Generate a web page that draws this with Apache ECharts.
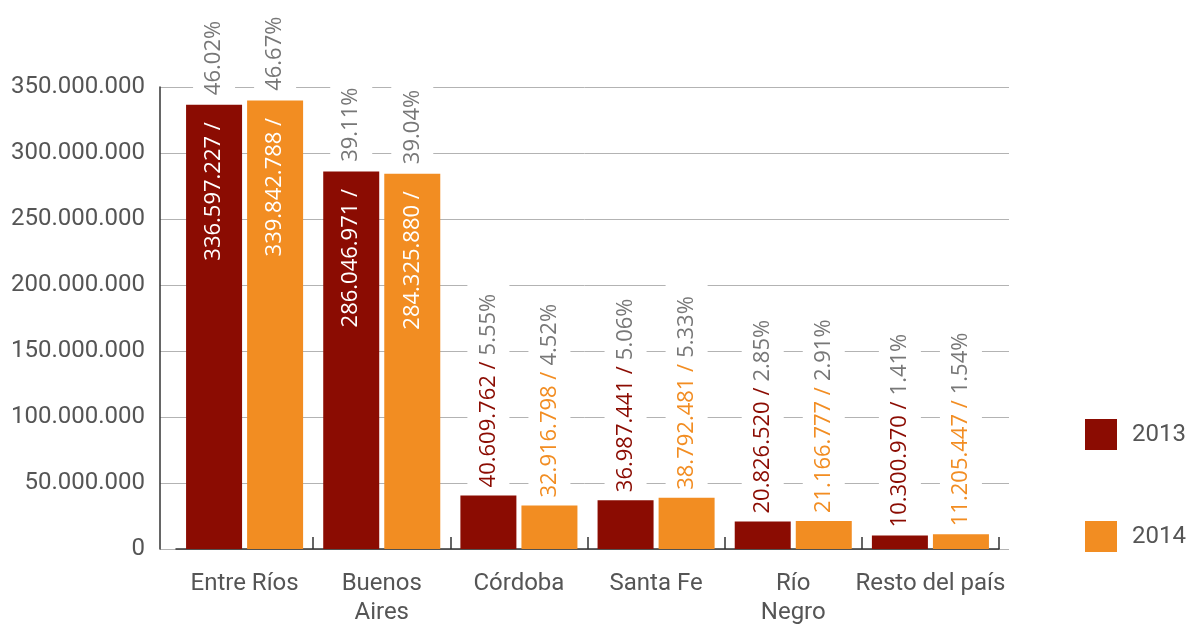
<!DOCTYPE html>
<html>
<head>
<meta charset="utf-8">
<script src="https://cdn.jsdelivr.net/npm/echarts@6/dist/echarts.min.js"></script>
<style>
  html, body { margin: 0; padding: 0; background: #fff; }
  #chart { width: 1187px; height: 628px; }
</style>
</head>
<body>
<div id="chart"></div>
<script>
// datos
var categories = ['Entre Ríos', 'Buenos\nAires', 'Córdoba', 'Santa Fe', 'Río\nNegro', 'Resto del país']
var values2013 = [336597227, 286046971, 40609762, 36987441, 20826520, 10300970]
var values2014 = [339842788, 284325880, 32916798, 38792481, 21166777, 11205447]
var pct2013 = [46.02, 39.11, 5.55, 5.06, 2.85, 1.41]
var pct2014 = [46.67, 39.04, 4.52, 5.33, 2.91, 1.54]
var yTicks = [0, 50000000, 100000000, 150000000, 200000000, 250000000, 300000000, 350000000]

var color2013 = '#8b0c02'
var color2014 = '#f28d22'
var gray = '#555'

function fmt(v) {
  return String(v).replace(/\B(?=(\d{3})+(?!\d))/g, '.')
}

// etiqueta dentro de la barra si es alta, encima si es baja
function buildData(values, pcts, color) {
  return values.map(function(v, i) {
    var big = v > 100000000
    var text = '{v|' + fmt(v) + ' /}' + (big ? '{g| }' : '{s| }') + '{p|' + pcts[i].toFixed(2) + '%}'
    var label = {
      show: true,
      rotate: 90,
      align: 'left',
      verticalAlign: 'middle',
      fontFamily: 'Open Sans',
      fontSize: 22,
      formatter: text,
      rich: {
        v: { color: big ? '#fff' : color, fontFamily: 'Open Sans', fontSize: 22 },
        s: { fontSize: 22, width: 6 },
        g: { fontSize: 22, width: 22 },
        p: big
          ? { color: '#777', fontFamily: 'Open Sans', fontSize: 22, backgroundColor: '#fff', padding: [10, 10, 10, 5] }
          : { color: '#777', fontFamily: 'Open Sans', fontSize: 22 }
      }
    }
    if (big) {
      label.position = ['50%', 156]
    } else {
      label.position = 'top'
      label.distance = 4
      label.backgroundColor = '#fff'
      label.padding = [10, 12, 10, 4]
    }
    return { value: v, label: label }
  })
}

var chart = echarts.init(document.getElementById('chart'))

chart.setOption({
  animation: false,
  grid: [
    { left: 160, right: 178, top: 87, bottom: 79 },
    { left: 176, right: 188, top: 87, bottom: 79 }
  ],
  legend: {
    data: ['2013', '2014'],
    orient: 'vertical',
    left: 1085,
    top: 419,
    padding: 0,
    itemWidth: 32,
    itemHeight: 31,
    itemGap: 71,
    icon: 'rect',
    textStyle: { color: gray, fontFamily: 'Roboto', fontSize: 24, padding: [0, 0, 0, 10] }
  },
  xAxis: [
    { gridIndex: 0, type: 'value', show: false },
    {
      gridIndex: 1,
      type: 'category',
      data: categories,
      axisLine: { show: true, lineStyle: { color: '#333', width: 1.5 } },
      axisTick: {
        show: true,
        inside: true,
        length: 12,
        alignWithLabel: false,
        interval: function(index) { return index !== 0 },
        lineStyle: { color: '#333', width: 1.5 }
      },
      axisLabel: { interval: 0, color: gray, fontFamily: 'Roboto', fontSize: 24, lineHeight: 29, margin: 20 }
    }
  ],
  yAxis: [
    {
      gridIndex: 0,
      type: 'value',
      min: yTicks[0],
      max: yTicks[yTicks.length - 1],
      interval: yTicks[1] - yTicks[0],
      axisLine: { show: true, lineStyle: { color: '#333', width: 1.5 } },
      axisTick: { show: false },
      splitLine: { lineStyle: { color: '#b3b3b3', width: 1 } },
      axisLabel: {
        color: gray,
        fontFamily: 'Roboto',
        fontSize: 24,
        margin: 15,
        padding: [0, 0, 16, 0],
        formatter: function(v) { return fmt(v) }
      }
    },
    {
      gridIndex: 1,
      type: 'value',
      min: yTicks[0],
      max: yTicks[yTicks.length - 1],
      show: false
    }
  ],
  series: [
    {
      name: '2013',
      type: 'bar',
      xAxisIndex: 1,
      yAxisIndex: 1,
      barWidth: 56,
      barGap: '9%',
      itemStyle: { color: color2013 },
      data: buildData(values2013, pct2013, color2013)
    },
    {
      name: '2014',
      type: 'bar',
      xAxisIndex: 1,
      yAxisIndex: 1,
      barWidth: 56,
      barGap: '9%',
      itemStyle: { color: color2014 },
      data: buildData(values2014, pct2014, color2014)
    }
  ]
})
</script>
</body>
</html>
